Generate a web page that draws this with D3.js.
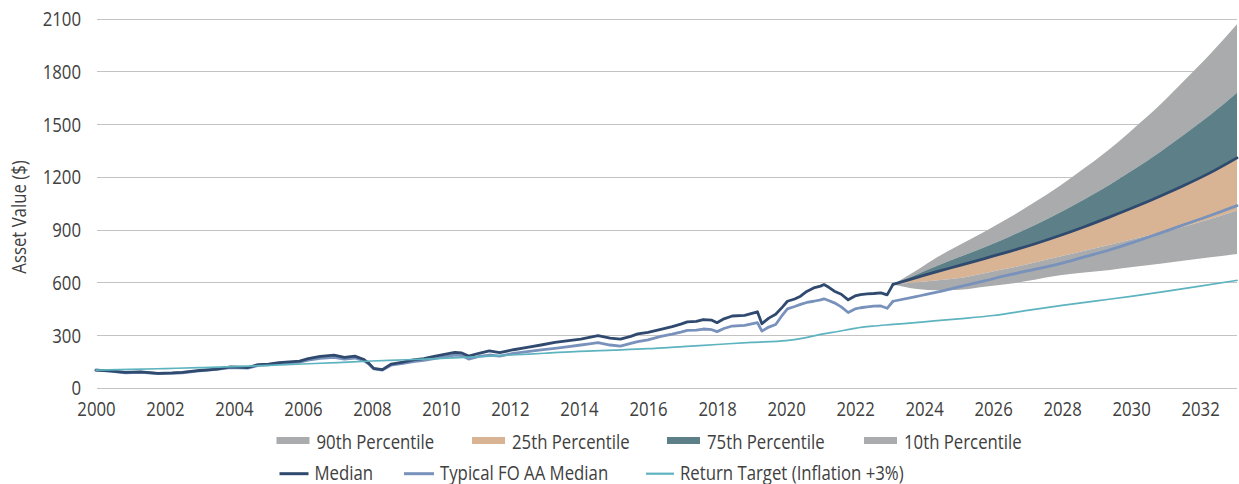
<!DOCTYPE html>
<html>
<head>
<meta charset="utf-8">
<script src="https://cdn.jsdelivr.net/npm/d3@7/dist/d3.min.js"></script>
<style>
  html, body { margin: 0; padding: 0; background: #ffffff; }
  svg { display: block; }
  text { font-family: "Open Sans", "Noto Sans", sans-serif; font-size: 19.5px; fill: #404040; }
</style>
</head>
<body>
<svg id="chart" width="1239" height="484"></svg>
<script>
// ---------------- DATA ----------------
const yTicks = [0, 300, 600, 900, 1200, 1500, 1800, 2100];
const xTicks = [2000, 2002, 2004, 2006, 2008, 2010, 2012, 2014, 2016, 2018, 2020, 2022, 2024, 2026, 2028, 2030, 2032];
const yTitle = "Asset Value ($)";

const histDates = [2000.0, 2000.4, 2000.85, 2001.3, 2001.8, 2002.2, 2002.5, 2003.0, 2003.5, 2003.9,
  2004.4, 2004.7, 2005.0, 2005.3, 2005.9, 2006.15, 2006.5, 2006.9, 2007.2, 2007.5,
  2007.75, 2007.9, 2008.05, 2008.3, 2008.55, 2008.9, 2009.2, 2009.5, 2009.8, 2010.1,
  2010.4, 2010.6, 2010.8, 2011.1, 2011.4, 2011.7, 2012.1, 2012.5, 2012.9, 2013.3,
  2013.7, 2014.05, 2014.3, 2014.55, 2014.9, 2015.2, 2015.5, 2015.7, 2016.0, 2016.37,
  2016.7, 2016.95, 2017.14, 2017.4, 2017.6, 2017.85, 2018.0, 2018.2, 2018.44, 2018.8,
  2019.17, 2019.3, 2019.5, 2019.7, 2019.9, 2020.04, 2020.25, 2020.42, 2020.6, 2020.8,
  2021.0, 2021.1, 2021.25, 2021.4, 2021.6, 2021.8, 2022.0, 2022.16, 2022.35, 2022.54,
  2022.75, 2022.93];

const medianHist = [100, 96, 87, 90, 82, 84, 87, 98, 106, 118,
  115, 131, 134, 143, 151, 165, 178, 185, 172, 180,
  162, 140, 110, 103, 134, 145, 158, 166, 178, 190,
  201, 198, 180, 196, 209, 200, 216, 229, 243, 258,
  268, 277, 286, 296, 282, 277, 292, 306, 315, 332,
  348, 362, 375, 378, 388, 384, 370, 392, 408, 412,
  432, 364, 396, 418, 460, 492, 505, 521, 548, 568,
  578, 587, 570, 549, 532, 500, 522, 530, 534, 536,
  540, 528];

const foaaHist = [100, 95, 85, 88, 80, 82, 85, 96, 104, 115,
  112, 127, 130, 138, 146, 157, 167, 172, 163, 169,
  156, 136, 107, 100, 128, 138, 148, 155, 165, 176,
  186, 183, 163, 178, 186, 180, 195, 205, 215, 224,
  234, 243, 250, 256, 243, 237, 252, 262, 272, 292,
  305, 316, 326, 328, 334, 330, 319, 337, 351, 355,
  370, 322, 345, 360, 415, 449, 462, 474, 485, 492,
  500, 506, 495, 483, 460, 428, 448, 455, 460, 464,
  465, 452];

const targetDates = [2000, 2001, 2002, 2003, 2004, 2005, 2006, 2007, 2008, 2009,
  2010, 2011, 2012, 2013, 2014, 2015, 2016, 2017, 2018, 2019,
  2020, 2020.5, 2021, 2021.5, 2022, 2022.5, 2023.1, 2024, 2025, 2026,
  2027, 2028, 2029, 2030, 2031, 2032, 2033.07];
const targetValues = [100, 104, 109, 114, 120, 127, 135, 143, 152, 159,
  167, 175, 186, 196, 207, 214, 222, 234, 246, 258,
  268, 282, 303, 320, 338, 350, 360, 375, 392, 411,
  440, 468, 494, 520, 548, 578, 611];

const projDates = [2023.1, 2023.8, 2024.4, 2025.04, 2025.75, 2026.49, 2027.2, 2027.94, 2028.65, 2029.39, 2030.1, 2030.84, 2031.5, 2032.3, 2033.07];
const p90 = [588, 670, 745, 814, 888, 970, 1055, 1150, 1250, 1360, 1480, 1610, 1740, 1900, 2068];
const p75 = [588, 645, 695, 745, 800, 861, 925, 997, 1072, 1157, 1245, 1342, 1435, 1553, 1679];
const p50 = [588, 628, 662, 696, 735, 776, 818, 866, 916, 972, 1028, 1090, 1148, 1224, 1308];
const p25 = [588, 600, 612, 625, 652, 681, 713, 747, 780, 814, 848, 880, 915, 960, 1008];
const p10 = [588, 562, 555, 558, 575, 592, 615, 640, 655, 670, 688, 705, 722, 742, 761];
const foaaProj = [492, 520, 545, 575, 608, 643, 673, 706, 745, 785, 830, 880, 925, 980, 1036];

const bandLabels = ["90th Percentile", "25th Percentile", "75th Percentile", "10th Percentile"];
const lineLabels = ["Median", "Typical FO AA Median", "Return Target (Inflation +3%)"];

// ---------------- STYLE ----------------
const C = {
  gray: "#a9abad", tan: "#d8b495", teal: "#5c7f88",
  median: "#2f4a6e", foaa: "#7892bb", target: "#5db3bf",
  grid: "#c3c3c3"
};
const SX = 0.86;

// ---------------- SCALES ----------------
const svg = d3.select("#chart");
const x = d3.scaleLinear().domain([2000, 2033.07]).range([96, 1237]);
const y = d3.scaleLinear().domain([0, 2100]).range([387.7, 18.7]);

// gridlines
svg.append("g").selectAll("line").data(yTicks).join("line")
  .attr("x1", x(2000) + 1).attr("x2", x(2033.07))
  .attr("y1", d => Math.round(y(d)) + 0.5).attr("y2", d => Math.round(y(d)) + 0.5)
  .attr("stroke", C.grid).attr("stroke-width", 1);

// y axis labels
const yAx = svg.append("g").attr("transform", "translate(81,0)")
  .call(d3.axisLeft(y).tickValues(yTicks).tickFormat(d3.format("d")).tickSize(0).tickPadding(0));
yAx.select(".domain").remove();
yAx.selectAll("text").attr("x", 0).attr("dy", "0.36em")
  .attr("transform", `scale(${SX},1)`).attr("fill", null);
yAx.attr("font-family", null).attr("font-size", null);

// x axis labels
const xAx = svg.append("g").attr("transform", `translate(0,${y(0)})`)
  .call(d3.axisBottom(x).tickValues(xTicks).tickFormat(d3.format("d")).tickSize(0).tickPadding(14));
xAx.select(".domain").remove();
xAx.selectAll("text").attr("transform", `scale(${SX},1)`).attr("fill", null);
xAx.attr("font-family", null).attr("font-size", null);

// y title
svg.append("text")
  .attr("transform", `translate(26,217) rotate(-90) scale(${SX},1)`)
  .attr("text-anchor", "middle").text(yTitle);

// ---------------- FAN ----------------
const proj = projDates.map((d, i) => ({ t: d, p90: p90[i], p75: p75[i], p50: p50[i], p25: p25[i], p10: p10[i] }));
function band(lo, hi, color) {
  svg.append("path").datum(proj)
    .attr("d", d3.area().x(d => x(d.t)).y0(d => y(d[lo])).y1(d => y(d[hi])).curve(d3.curveMonotoneX))
    .attr("fill", color);
}
band("p75", "p90", C.gray);
band("p50", "p75", C.teal);
band("p25", "p50", C.tan);
band("p10", "p25", C.gray);

// ---------------- LINES ----------------
const linLine = d3.line().x(d => x(d[0])).y(d => y(d[1]));
const smoothLine = d3.line().x(d => x(d[0])).y(d => y(d[1])).curve(d3.curveMonotoneX);

const foaaH = histDates.map((d, i) => [d, foaaHist[i]]).concat([[projDates[0], foaaProj[0]]]);
const foaaP = projDates.map((d, i) => [d, foaaProj[i]]);
const medH = histDates.map((d, i) => [d, medianHist[i]]).concat([[projDates[0], p50[0]]]);
const medP = projDates.map((d, i) => [d, p50[i]]);
const tgtPts = targetDates.map((d, i) => [d, targetValues[i]]);

function drawLine(pts, gen, color, w) {
  svg.append("path").datum(pts).attr("d", gen)
    .attr("fill", "none").attr("stroke", color).attr("stroke-width", w)
    .attr("stroke-linejoin", "round").attr("stroke-linecap", "round");
}
drawLine(foaaH, linLine, C.foaa, 2.8);
drawLine(foaaP, smoothLine, C.foaa, 2.8);
drawLine(medH, linLine, C.median, 2.8);
drawLine(medP, smoothLine, C.median, 2.8);
drawLine(tgtPts, smoothLine, C.target, 1.7);

// ---------------- LEGEND ----------------
const lg = svg.append("g");
const bandColors = [C.gray, C.tan, C.teal, C.gray];
const bandSwX = [276.5, 472, 667, 864];
bandLabels.forEach((lab, i) => {
  lg.append("rect").attr("x", bandSwX[i]).attr("y", 437).attr("width", 33).attr("height", 7).attr("fill", bandColors[i]);
  lg.append("text").attr("transform", `translate(${bandSwX[i] + 40},449) scale(${SX},1)`).text(lab);
});
const lineColors = [C.median, C.foaa, C.target];
const lineSwX = [279.5, 404, 646];
const lineSwW = [29, 30, 28];
const lineSwS = [3, 3, 2.2];
lineLabels.forEach((lab, i) => {
  lg.append("line").attr("x1", lineSwX[i]).attr("x2", lineSwX[i] + lineSwW[i])
    .attr("y1", 473.7).attr("y2", 473.7).attr("stroke", lineColors[i]).attr("stroke-width", lineSwS[i]);
  lg.append("text").attr("transform", `translate(${lineSwX[i] + lineSwW[i] + 6},480) scale(${SX},1)`).text(lab);
});
</script>
</body>
</html>
